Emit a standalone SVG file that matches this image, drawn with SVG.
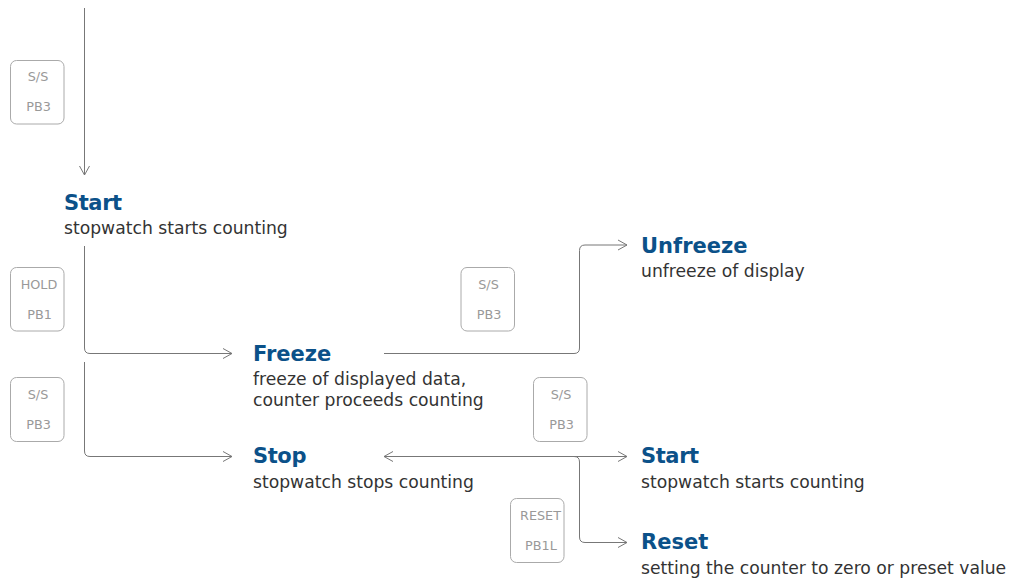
<svg xmlns="http://www.w3.org/2000/svg" width="1010" height="579" viewBox="0 0 1010 579">
<style>
.title{font-family:"DejaVu Sans",sans-serif;font-weight:bold;font-size:21px;fill:#0b5189}
.body{font-family:"DejaVu Sans",sans-serif;font-size:17.2px;fill:#333}
.key rect{fill:#fff;stroke:#aaa;stroke-width:1}
.key text{font-family:"DejaVu Sans",sans-serif;font-size:12.8px;fill:#999;text-anchor:middle}
.conn path{fill:none;stroke:#777;stroke-width:1}
</style>
<defs>
<marker id="arr" viewBox="-10 -6 12 12" refX="0" refY="0" markerWidth="12" markerHeight="12" markerUnits="userSpaceOnUse" orient="auto-start-reverse">
<path d="M-9,-5 L0,0 L-9,5" fill="none" stroke="#777" stroke-width="1"/>
</marker>
</defs>
<rect width="1010" height="579" fill="#fff"/>
<g id="connectors" class="conn">
<path d="M84.5 8 V175" marker-end="url(#arr)"/>
<path d="M84.5 246 V348 Q84.5 353.5 90 353.5 H232" marker-end="url(#arr)"/>
<path d="M84.5 362 V451 Q84.5 456.5 90 456.5 H232" marker-end="url(#arr)"/>
<path d="M384 353.5 H574 Q579.5 353.5 579.5 348 V250.5 Q579.5 245 585 245 H627" marker-end="url(#arr)"/>
<path d="M384 456.5 H627" marker-start="url(#arr)" marker-end="url(#arr)"/>
<path d="M574 456.5 Q579.5 456.5 579.5 462 V537 Q579.5 542.5 585 542.5 H627" marker-end="url(#arr)"/>
</g>
<g id="key-ss1" class="key"><rect x="10.5" y="60.5" width="53.5" height="63.5" rx="6"/><text x="38" y="81">S/S</text><text x="38.5" y="111">PB3</text></g>
<g id="key-hold" class="key"><rect x="10.5" y="267.5" width="53.5" height="63.5" rx="6"/><text x="39" y="288.5">HOLD</text><text x="39.5" y="318.5">PB1</text></g>
<g id="key-ss2" class="key"><rect x="10.5" y="377.5" width="53.5" height="64" rx="6"/><text x="38" y="398.5">S/S</text><text x="38.5" y="428.5">PB3</text></g>
<g id="key-ss3" class="key"><rect x="461" y="267.5" width="53.5" height="63.5" rx="6"/><text x="488.5" y="288.5">S/S</text><text x="489" y="318.5">PB3</text></g>
<g id="key-ss4" class="key"><rect x="533.5" y="377.5" width="53.5" height="64" rx="6"/><text x="561" y="398.5">S/S</text><text x="561.5" y="428.5">PB3</text></g>
<g id="key-reset" class="key"><rect x="510.5" y="498.5" width="53.5" height="64" rx="6"/><text x="540.5" y="519.5">RESET</text><text x="541" y="549.5">PB1L</text></g>
<g id="node-start1"><text class="title" x="64" y="210" letter-spacing="-0.4">Start</text><text class="body" x="64" y="234">stopwatch starts counting</text></g>
<g id="node-freeze"><text class="title" x="253" y="360.5">Freeze</text><text class="body" x="253" y="385">freeze of displayed data,</text><text class="body" x="253" y="406">counter proceeds counting</text></g>
<g id="node-unfreeze"><text class="title" x="641" y="252.5">Unfreeze</text><text class="body" x="641" y="277">unfreeze of display</text></g>
<g id="node-stop"><text class="title" x="253" y="463" letter-spacing="-0.4">Stop</text><text class="body" x="253" y="488">stopwatch stops counting</text></g>
<g id="node-start2"><text class="title" x="641" y="462.5" letter-spacing="-0.4">Start</text><text class="body" x="641" y="487.5">stopwatch starts counting</text></g>
<g id="node-reset"><text class="title" x="641" y="549">Reset</text><text class="body" x="641" y="573.5">setting the counter to zero or preset value</text></g>
</svg>
